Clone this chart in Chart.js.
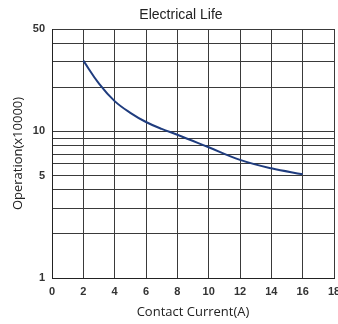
<!DOCTYPE html>
<html>
<head>
<meta charset="utf-8">
<script src="https://cdn.jsdelivr.net/npm/chart.js@4/dist/chart.umd.min.js"></script>
<style>
    html, body { margin: 0; padding: 0; background: #fff; }
    #wrap { width: 338px; height: 324px; }
</style>
</head>
<body>
<div id="wrap"><canvas id="lifeChart" width="338" height="324"></canvas></div>
<script>
// Contact current (A) and operations (x10000)
const currents = [2, 3, 4, 5, 6, 7, 8, 10, 12, 14, 16];
const operations = [30.4, 21.2, 16.1, 13.4, 11.6, 10.4, 9.5, 7.8, 6.4, 5.6, 5.1];

// Gridlines on the log axis and the ones that get a label
const yGridValues = [1, 2, 3, 4, 5, 6, 7, 8, 9, 10, 20, 30, 40, 50];
const yLabelValues = [1, 5, 10, 50];

const titleText = 'Electrical Life';

// chart title drawn above the plot, a bit off center like the original
const titlePlugin = {
    id: 'plotTitle',
    afterDraw(chart) {
        const ctx = chart.ctx;
        ctx.save();
        ctx.font = '14px "Liberation Sans", Arial, sans-serif';
        ctx.fillStyle = '#222';
        ctx.textAlign = 'center';
        ctx.textBaseline = 'middle';
        ctx.fillText(titleText, 181, 15);
        ctx.restore();
    }
};

document.addEventListener('DOMContentLoaded', function() {
    const ctx = document.getElementById('lifeChart').getContext('2d');

    new Chart(ctx, {
        type: 'line',
        data: {
            datasets: [{
                data: currents.map((c, i) => ({ x: c, y: operations[i] })),
                borderColor: '#1f3c7e',
                borderWidth: 2,
                tension: 0.4,
                pointRadius: 0,
                fill: false
            }]
        },
        options: {
            responsive: false,
            animation: false,
            layout: {
                padding: { left: 0, right: 4, top: 29, bottom: 0 }
            },
            plugins: {
                legend: { display: false },
                tooltip: { enabled: false },
                title: { display: false }
            },
            scales: {
                x: {
                    type: 'linear',
                    min: 0,
                    max: 18,
                    ticks: {
                        stepSize: 2,
                        padding: 7,
                        color: '#333',
                        font: { family: '"Liberation Sans", Arial, sans-serif', size: 11, weight: 'bold' }
                    },
                    grid: { color: '#3a3a3a', lineWidth: 1, drawTicks: false },
                    border: { color: '#222', width: 1 },
                    title: {
                        display: true,
                        text: 'Contact Current(A)',
                        color: '#222',
                        font: { family: '"Open Sans", sans-serif', size: 13 },
                        padding: { top: 0, bottom: 4 }
                    },
                    afterFit(scale) {
                        scale.height = 46;
                        scale.paddingLeft = 0;
                        scale.paddingRight = 0;
                    }
                },
                y: {
                    type: 'logarithmic',
                    min: 1,
                    max: 50,
                    afterBuildTicks(scale) {
                        scale.ticks = yGridValues.map(v => ({ value: v }));
                    },
                    ticks: {
                        padding: 7,
                        autoSkip: false,
                        color: '#333',
                        font: { family: '"Liberation Sans", Arial, sans-serif', size: 11, weight: 'bold' },
                        callback: function(value) {
                            return yLabelValues.includes(value) ? String(value) : '';
                        }
                    },
                    grid: { color: '#3a3a3a', lineWidth: 1, drawTicks: false },
                    border: { color: '#222', width: 1 },
                    title: {
                        display: true,
                        text: 'Operation(x10000)',
                        color: '#222',
                        font: { family: '"Open Sans", sans-serif', size: 13 },
                        padding: { top: 10, bottom: 0 }
                    },
                    afterFit(scale) {
                        scale.width = 52;
                        scale.paddingTop = 0;
                        scale.paddingBottom = 0;
                    }
                }
            }
        },
        plugins: [titlePlugin]
    });
});
</script>
</body>
</html>
